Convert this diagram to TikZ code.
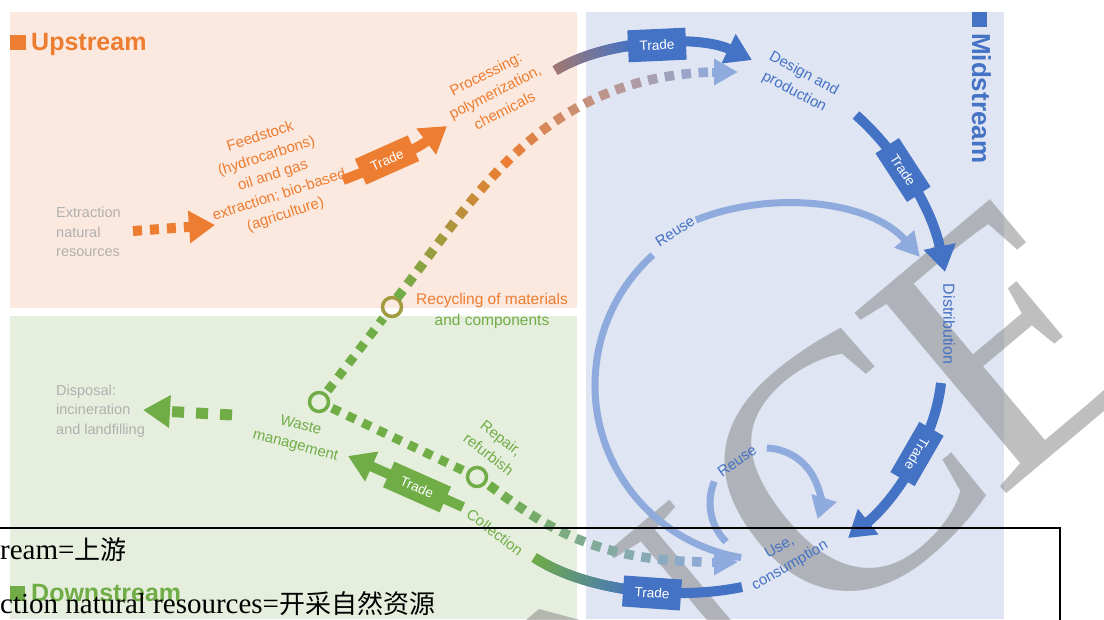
\documentclass[tikz,border=0pt]{standalone}
\usepackage{fontspec}
\setmainfont{Liberation Sans}
\newfontfamily\serifen{Liberation Serif}
\newfontfamily\cjk{Noto Sans CJK SC}
\usetikzlibrary{arrows.meta,decorations.markings}
\definecolor{cOr}{HTML}{ED7D31}
\definecolor{cBl}{HTML}{4472C4}
\definecolor{cLb}{HTML}{8FAADC}
\definecolor{cGr}{HTML}{70AD47}
\definecolor{cGy}{HTML}{B0B0B0}
\definecolor{bgOr}{HTML}{FBE9DF}
\definecolor{bgGr}{HTML}{E6EFDE}
\definecolor{bgBl}{HTML}{DFE5F2}
\newcommand\gradcolor[6]{%
  \pgfmathsetmacro\gcA{min(100,max(0,(#1)/(#4)*100))}%
  \pgfmathsetmacro\gcB{min(100,max(0,((#1)-(#4))/(100-(#4))*100))}%
  \ifdim #1pt<#4pt\relax\colorlet{#6}{#3!\gcA!#2}\else\colorlet{#6}{#5!\gcB!#3}\fi}
\tikzset{
  lbl/.style={font=\fontsize{15}{20.5}\selectfont, align=center, inner sep=0pt},
  gry/.style={font=\fontsize{14.5}{19.5}\selectfont, text=cGy, align=left, inner sep=0pt, anchor=west},
  hd/.style={font=\fontsize{25}{30}\selectfont\bfseries, inner sep=0pt},
  wm/.style={font=\fontsize{360}{360}\selectfont\serifen, text=gray, text opacity=0.5, inner sep=0pt, rotate=40},
  tradebox/.style={fill=#1, text=white, font=\fontsize{13.5}{13.5}\selectfont, minimum width=58pt, minimum height=28pt, inner sep=0pt},
  bigarrow/.style={line width=10pt, -{Triangle[length=26pt,width=31pt]}},
  reusearc/.style={cLb, line width=7pt},
  ring/.style={circle, draw=#1, line width=3.5pt, minimum size=19pt, inner sep=0pt},
  dotpath/.style n args={4}{decoration={markings, mark=between positions 0 and 1 step 17pt with {%
      \pgfmathsetmacro\gp{min(100,max(0,(\pgfkeysvalueof{/pgf/decoration/mark info/distance from start})/(\pgfdecoratedpathlength)*100))}%
      \gradcolor{\gp}{#1}{#2}{#3}{#4}{dc}%
      \fill[dc] (-4.75pt,-4.75pt) rectangle (4.75pt,4.75pt);}}, decorate},
  gradstroke/.style n args={4}{decoration={markings, mark=between positions 0 and #3 step 1.2pt with {%
      \pgfmathsetmacro\gp{min(100,max(0,(\pgfkeysvalueof{/pgf/decoration/mark info/distance from start})/(\pgfdecoratedpathlength)/#3*100))}%
      \fill[color=#2!\gp!#1] (-1.1pt,-#4) rectangle (1.1pt,#4);}}, decorate},
  sqdots/.style={line width=9pt, dash pattern=on 9pt off 8pt}
}
\begin{document}
\begin{tikzpicture}[x=1pt,y=-1pt]
\useasboundingbox (0,0) rectangle (1104,619);
% panels
\fill[bgOr] (10,12) rectangle (577,308);
\fill[bgGr] (10,316) rectangle (577,619);
\fill[bgBl] (586,12) rectangle (1004,619);

% watermark
\node[wm] (wmN) at (652,669) {N};
\node[wm] (wmC) at (840,475) {C};
\node[wm] (wmE) at (1007,340) {E};

% headers
\node[hd, text=cOr, anchor=base west] (up) at (10,50) {\rule{16pt}{15pt}\hspace{5pt}Upstream};
\node[hd, text=cGr, anchor=base west] (down) at (10,601) {\rule{15pt}{15pt}\hspace{6pt}Downstream};
\node[hd, text=cBl, anchor=base west, rotate=-90, font=\fontsize{26}{30}\selectfont\bfseries] (mid) at (972,12) {\rule{15pt}{15pt}\hspace{6pt}Midstream};

% labels
\node[gry] (ext) at (56,232) {Extraction\\natural\\resources};
\node[gry] (disp) at (56,411) {Disposal:\\incineration\\and landfilling};
\node[lbl, text=cOr, rotate=18] (feed) at (273,176) {Feedstock\\(hydrocarbons)\\oil and gas\\extraction; bio-based\\(agriculture)};
\node[lbl, text=cOr, rotate=27] (proc) at (495,92) {Processing:\\polymerization,\\chemicals};
\node[lbl, text=cOr, font=\fontsize{15.5}{20}\selectfont] (rec1) at (492,300) {Recycling of materials};
\node[lbl, text=cGr, font=\fontsize{15.5}{20}\selectfont] (rec2) at (492,321) {and components};
\node[lbl, text=cGr, rotate=-15] (waste) at (298,436) {Waste\\management};
\node[lbl, text=cGr, rotate=-38] (repair) at (495,446) {Repair,\\refurbish};
\node[lbl, text=cGr, rotate=-37] (coll) at (495,532) {Collection};
\node[lbl, text=cBl, rotate=-28] (design) at (799,83) {Design and\\production};
\node[lbl, text=cBl, rotate=-90, font=\fontsize{16}{18}\selectfont] (distr) at (949,324) {Distribution};
\node[lbl, text=cBl, rotate=30] (use) at (785,557) {Use,\\consumption};
\node[lbl, text=cBl, rotate=33] (reuse1) at (675,231) {Reuse};
\node[lbl, text=cBl, rotate=35] (reuse2) at (737,461) {Reuse};

% rings
\node[ring=cGr!60!cOr] (cRec) at (392,307) {};
\node[ring=cGr] (cWaste) at (319,402) {};
\node[ring=cGr] (cRep) at (477,477) {};

% coordinates
\coordinate (exS) at (133,231); \coordinate (exE) at (215,225);
\coordinate (wdS) at (232,415); \coordinate (wdE) at (143,410);
\coordinate (otS) at (343,180); \coordinate (otE) at (447,126);
\coordinate (tbS) at (556,70);  \coordinate (tbE) at (752,60);
\coordinate (rcS) at (400,294); \coordinate (rcE) at (712,72); \coordinate (rcT) at (738,72);
\coordinate (rpS) at (493,488); \coordinate (rpE) at (712,562); \coordinate (rpT) at (738,562);
\coordinate (gtS) at (463,507); \coordinate (gtE) at (348,456);
\coordinate (bbS) at (535,558); \coordinate (bbE) at (742,587);
\coordinate (ddS) at (856,115); \coordinate (ddE) at (945,272);
\coordinate (duS) at (941,383); \coordinate (duE) at (848,538);
\coordinate (ruC) at (770,385); \coordinate (ruS) at (696,220); \coordinate (ruE) at (920,257);
\coordinate (rsC) at (765,503);

% reuse loops
\draw[reusearc] (ruC) ++(99.5:175) arc[start angle=99.5, end angle=228, radius=175];
\draw[reusearc, -{Triangle[length=24pt,width=25pt]}] (ruS) .. controls (770,190) and (870,200) .. (ruE);
\draw[reusearc] (rsC) ++(135:55) arc[start angle=135, end angle=203, radius=55];
\draw[reusearc, -{Triangle[length=22pt,width=25pt]}] (rsC) ++(272:55) arc[start angle=272, end angle=377, radius=55];

% upstream arrows
\draw[cOr, bigarrow, dash pattern=on 9pt off 8pt] (exS) -- (exE);
\draw[cOr, bigarrow] (otS) .. controls (380,166) and (415,150) .. (otE);
\node[tradebox=cOr, rotate=24] (t1) at (387,160) {Trade};

% top trade arc with gradient start
\draw[cBl, bigarrow] (tbS) .. controls (610,38) and (700,35) .. (tbE);
\path[gradstroke={cOr!55!cBl}{cBl}{0.4}{5pt}] (tbS) .. controls (610,38) and (700,35) .. (tbE);
\node[tradebox=cBl, rotate=2.6, minimum height=32pt] (t2) at (657,45) {Trade};

% recycling dotted path
\path[dotpath={cGr}{cOr}{42}{cLb}] (rcS) .. controls (480,190) and (545,78) .. (rcE);
\draw[cLb, line width=9pt, -{Triangle[length=24pt,width=25pt]}] (rcE) -- (rcT);
\draw[cGr, sqdots, shorten <=3pt, shorten >=3pt] (cWaste) -- (cRec);
\draw[cGr, sqdots, shorten <=3pt, shorten >=3pt] (cWaste) -- (cRep);
\path[dotpath={cGr}{cGr!45!cLb}{50}{cLb}] (rpS) .. controls (550,530) and (600,562) .. (rpE);
\draw[cLb, line width=9pt, -{Triangle[length=24pt,width=25pt]}] (rpE) -- (rpT);

% waste to disposal
\draw[cGr, line width=11pt, dash pattern=on 12pt off 12pt, -{Triangle[length=27pt,width=31pt]}] (wdS) -- (wdE);

% green trade
\draw[cGr, bigarrow] (gtS) -- (gtE);
\node[tradebox=cGr, rotate=-23.9, minimum width=62pt] (t3) at (417,487) {Trade};

% bottom arc
\draw[cBl, line width=10pt] (bbS) .. controls (590,593) and (680,600) .. (bbE);
\path[gradstroke={cGr}{cBl}{0.5}{5pt}] (bbS) .. controls (590,593) and (680,600) .. (bbE);
\node[tradebox=cBl, rotate=-4, minimum height=31pt] (t4) at (652,593) {Trade};

% midstream trade arrows
\draw[cBl, bigarrow] (ddS) .. controls (890,145) and (930,200) .. (ddE);
\node[tradebox=cBl, rotate=-57] (t5) at (903,170) {Trade};
\draw[cBl, bigarrow] (duS) .. controls (935,440) and (895,500) .. (duE);
\node[tradebox=cBl, rotate=-120] (t6) at (917,454) {Trade};

% overlay box
\draw[black, line width=2pt] (-5,528) -- (1060,528) -- (1060,630);
\node[anchor=base west, inner sep=0pt, font=\fontsize{29}{30}\selectfont] (ov1) at (0,559) {\serifen ream=\fontsize{26}{30}\selectfont\cjk 上游};
\node[anchor=base west, inner sep=0pt, font=\fontsize{29}{30}\selectfont] (ov2) at (0,613) {\serifen ction natural resources=\fontsize{26}{30}\selectfont\cjk 开采自然资源};
\end{tikzpicture}
\end{document}
